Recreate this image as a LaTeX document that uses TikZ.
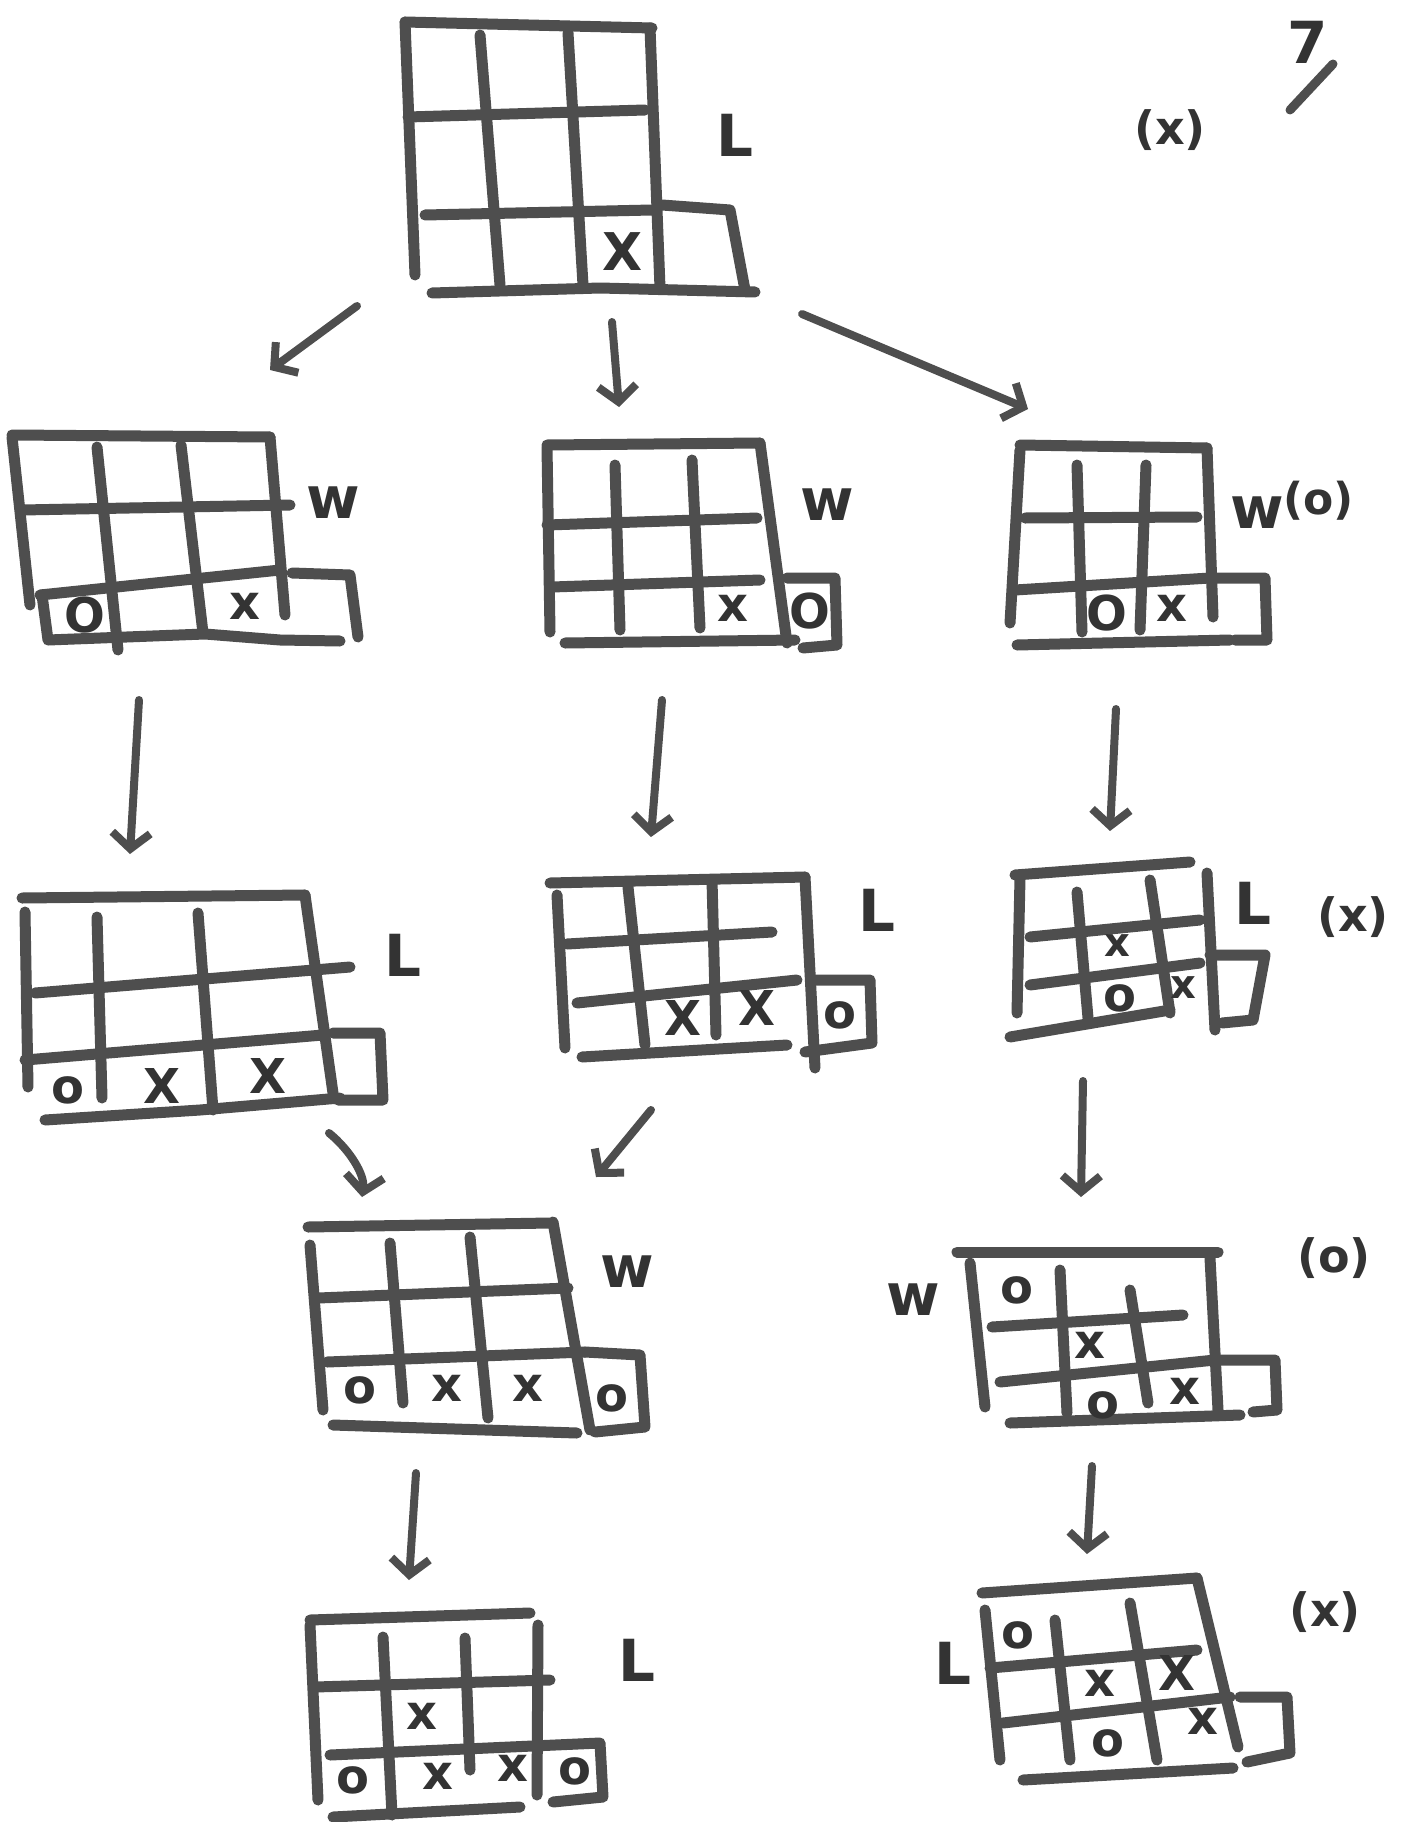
\documentclass[tikz,border=0pt]{standalone}
\usepackage{fontspec}
\setsansfont{DejaVu Sans}
\usetikzlibrary{arrows.meta}
\definecolor{ink}{HTML}{4E4E4E}
\definecolor{dark}{HTML}{333333}
\begin{document}
\begin{tikzpicture}[x=1pt,y=-1pt,
  gl/.style={draw=ink,line width=11pt,line cap=round,line join=round},
  arr/.style={draw=ink,line width=8pt,line cap=round,-{Straight Barb[length=16pt,width=38pt]}},
  mk/.style={text=dark,font=\sffamily\bfseries\fontsize{48}{48}\selectfont,inner sep=0pt},
  lab/.style={text=dark,font=\sffamily\bfseries\fontsize{58}{58}\selectfont,inner sep=0pt},
  par/.style={text=dark,font=\sffamily\bfseries\fontsize{46}{46}\selectfont,inner sep=0pt}]
\useasboundingbox (0,0) rectangle (1405,1822);
\fill[white] (0,0) rectangle (1405,1822);

% ---------- top right marks
\node[par] (tx) at (1170,130) {(x)};
\node[lab] (seven) at (1308,42) {7};
\coordinate (s1) at (1290,110); \coordinate (s2) at (1333,64);
\draw[gl,line width=9pt] (s1) -- (s2);

% ---------- Board 1
\draw[gl] (405,22) -- (652,28);
\draw[gl] (405,22) -- (415,275);
\draw[gl] (480,35) -- (500,285);
\draw[gl] (568,33) -- (583,285);
\draw[gl] (650,28) -- (660,288);
\draw[gl] (408,117) -- (645,110);
\draw[gl] (425,215) -- (652,210);
\draw[gl] (432,293) -- (600,288) -- (755,292);
\draw[gl] (662,205) -- (730,210) -- (745,290);
\node[mk,font=\sffamily\bfseries\fontsize{52}{52}\selectfont] (b1x) at (623,252) {X};
\node[lab] (b1l) at (735,135) {L};

% ---------- Board 2a
\draw[gl] (12,435) -- (270,437);
\draw[gl] (12,437) -- (30,605);
\draw[gl] (97,447) -- (118,650);
\draw[gl] (181,445) -- (203,633);
\draw[gl] (270,437) -- (285,615);
\draw[gl] (22,510) -- (290,505);
\draw[gl] (40,595) -- (280,570);
\draw[gl] (42,595) -- (48,640) -- (205,634) -- (280,640) -- (340,641);
\draw[gl] (292,573) -- (350,575) -- (358,637);
\node[mk] (b2ao) at (85,615) {O};
\node[mk] (b2ax) at (245,606) {x};
\node[lab] (b2al) at (333,503) {w};

% ---------- Board 2b
\draw[gl] (547,445) -- (760,443);
\draw[gl] (547,447) -- (550,632);
\draw[gl] (615,465) -- (620,630);
\draw[gl] (692,460) -- (700,628);
\draw[gl] (760,443) -- (787,643);
\draw[gl] (547,525) -- (757,518);
\draw[gl] (552,587) -- (760,580);
\draw[gl] (565,643) -- (795,640);
\draw[gl] (787,578) -- (835,578) -- (837,645) -- (803,648);
\node[mk] (b2bx) at (733,608) {x};
\node[mk] (b2bo) at (810,611) {O};
\node[lab] (b2bl) at (827,505) {w};

% ---------- Board 2c
\draw[gl] (1020,445) -- (1207,448);
\draw[gl] (1020,450) -- (1010,623);
\draw[gl] (1077,465) -- (1082,632);
\draw[gl] (1146,465) -- (1140,630);
\draw[gl] (1207,448) -- (1213,617);
\draw[gl] (1025,518) -- (1197,517);
\draw[gl] (1015,590) -- (1210,578) -- (1265,578) -- (1267,640) -- (1235,640);
\draw[gl] (1017,645) -- (1230,640);
\node[mk] (b2co) at (1107,613) {O};
\node[mk] (b2cx) at (1172,608) {x};
\node[lab] (b2cl) at (1292,505) {w\raisebox{14pt}{\fontsize{44}{44}\selectfont(o)}};

% ---------- Board 3a
\draw[gl] (22,898) -- (305,895);
\draw[gl] (25,912) -- (28,1087);
\draw[gl] (97,917) -- (102,1098);
\draw[gl] (198,913) -- (213,1110);
\draw[gl] (305,895) -- (333,1093);
\draw[gl] (35,993) -- (350,967);
\draw[gl] (25,1060) -- (323,1035);
\draw[gl] (45,1120) -- (200,1110) -- (340,1098);
\draw[gl] (333,1033) -- (380,1033) -- (383,1100) -- (338,1100);
\node[mk] (b3ao) at (68,1090) {o};
\node[mk] (b3ax1) at (162,1086) {X};
\node[mk] (b3ax2) at (268,1076) {X};
\node[lab] (b3al) at (403,955) {L};

% ---------- Board 3b
\draw[gl] (550,883) -- (805,877);
\draw[gl] (557,895) -- (565,1048);
\draw[gl] (628,887) -- (645,1045);
\draw[gl] (712,880) -- (716,1035);
\draw[gl] (805,877) -- (815,1068);
\draw[gl] (567,944) -- (772,932);
\draw[gl] (577,1003) -- (797,980);
\draw[gl] (582,1057) -- (787,1045);
\draw[gl] (812,980) -- (870,980) -- (872,1043) -- (805,1052);
\node[mk] (b3bx1) at (683,1018) {X};
\node[mk] (b3bx2) at (757,1008) {X};
\node[mk] (b3bo) at (840,1015) {o};
\node[lab] (b3bl) at (877,910) {L};

% ---------- Board 3c
\draw[gl] (1015,875) -- (1190,862);
\draw[gl] (1020,878) -- (1017,1013);
\draw[gl] (1077,892) -- (1088,1018);
\draw[gl] (1150,880) -- (1170,1013);
\draw[gl] (1207,873) -- (1215,1030);
\draw[gl] (1030,937) -- (1200,920);
\draw[gl] (1030,985) -- (1200,963);
\draw[gl] (1010,1037) -- (1170,1010);
\draw[gl] (1210,955) -- (1265,955) -- (1253,1020) -- (1222,1023);
\node[mk,font=\sffamily\bfseries\fontsize{40}{40}\selectfont] (b3cx1) at (1117,946) {x};
\node[mk,font=\sffamily\bfseries\fontsize{40}{40}\selectfont] (b3cx2) at (1183,988) {x};
\node[mk] (b3co) at (1120,998) {o};
\node[lab] (b3cl) at (1253,903) {L};
\node[par] (b3cp) at (1353,917) {(x)};

% ---------- Board 4a
\draw[gl] (308,1227) -- (550,1223);
\draw[gl] (310,1245) -- (323,1410);
\draw[gl] (390,1243) -- (403,1403);
\draw[gl] (470,1237) -- (488,1418);
\draw[gl] (553,1222) -- (590,1430);
\draw[gl] (318,1298) -- (568,1288);
\draw[gl] (327,1362) -- (585,1352);
\draw[gl] (333,1425) -- (577,1433);
\draw[gl] (585,1352) -- (640,1355) -- (645,1427) -- (595,1432);
\node[mk] (b4ao1) at (360,1390) {o};
\node[mk] (b4ax1) at (447,1388) {x};
\node[mk] (b4ax2) at (528,1388) {x};
\node[mk] (b4ao2) at (612,1398) {o};
\node[lab] (b4al) at (627,1272) {w};

% ---------- Board 4b
\draw[gl] (957,1252) -- (1218,1252);
\draw[gl] (970,1263) -- (985,1407);
\draw[gl] (1060,1270) -- (1067,1413);
\draw[gl] (1130,1290) -- (1148,1403);
\draw[gl] (1210,1258) -- (1218,1410);
\draw[gl] (992,1327) -- (1183,1315);
\draw[gl] (1000,1382) -- (1215,1360) -- (1275,1360) -- (1277,1410) -- (1253,1412);
\draw[gl] (1010,1423) -- (1240,1415);
\node[mk] (b4bo1) at (1017,1290) {o};
\node[mk] (b4bx1) at (1090,1345) {x};
\node[mk] (b4bo2) at (1103,1405) {o};
\node[mk] (b4bx2) at (1185,1391) {x};
\node[lab] (b4bl) at (913,1300) {w};
\node[par] (b4bp) at (1334,1258) {(o)};

% ---------- Board 5a
\draw[gl] (310,1620) -- (530,1613);
\draw[gl] (310,1625) -- (318,1800);
\draw[gl] (383,1637) -- (392,1815);
\draw[gl] (465,1638) -- (470,1770);
\draw[gl] (538,1625) -- (537,1795);
\draw[gl] (315,1687) -- (550,1680);
\draw[gl] (330,1755) -- (600,1743) -- (603,1797) -- (553,1802);
\draw[gl] (333,1817) -- (520,1807);
\node[mk] (b5ax1) at (422,1716) {x};
\node[mk] (b5ao1) at (353,1780) {o};
\node[mk] (b5ax2) at (438,1776) {x};
\node[mk] (b5ax3) at (513,1768) {x};
\node[mk] (b5ao2) at (575,1771) {o};
\node[lab] (b5al) at (637,1660) {L};

% ---------- Board 5b
\draw[gl] (982,1593) -- (1197,1578);
\draw[gl] (985,1610) -- (1000,1760);
\draw[gl] (1055,1620) -- (1070,1760);
\draw[gl] (1130,1603) -- (1157,1760);
\draw[gl] (1197,1578) -- (1238,1747);
\draw[gl] (990,1668) -- (1197,1650);
\draw[gl] (1003,1723) -- (1230,1697);
\draw[gl] (1240,1697) -- (1287,1697) -- (1290,1753) -- (1247,1762);
\draw[gl] (1023,1780) -- (1233,1768);
\node[mk] (b5bo1) at (1018,1635) {o};
\node[mk] (b5bx1) at (1100,1683) {x};
\node[mk] (b5bx2) at (1177,1673) {X};
\node[mk] (b5bx3) at (1203,1721) {x};
\node[mk] (b5bo2) at (1108,1743) {o};
\node[lab] (b5bl) at (953,1663) {L};
\node[par] (b5bp) at (1325,1612) {(x)};

% ---------- arrows
\coordinate (a1s) at (357,306);  \coordinate (a1e) at (270,370);
\coordinate (a2s) at (612,322);  \coordinate (a2e) at (619,407);
\coordinate (a3s) at (802,314);  \coordinate (a3e) at (1028,409);
\coordinate (a4s) at (139,700);  \coordinate (a4e) at (130,854);
\coordinate (a5s) at (662,700);  \coordinate (a5e) at (651,837);
\coordinate (a6s) at (1116,709); \coordinate (a6e) at (1110,831);
\coordinate (a7s) at (329,1133); \coordinate (a7e) at (362,1197);
\coordinate (a8s) at (651,1110); \coordinate (a8e) at (596,1177);
\coordinate (a9s) at (1083,1081); \coordinate (a9e) at (1081,1197);
\coordinate (a10s) at (416,1473); \coordinate (a10e) at (409,1580);
\coordinate (a11s) at (1092,1466); \coordinate (a11e) at (1087,1554);
\draw[arr] (a1s) -- (a1e);
\draw[arr] (a2s) -- (a2e);
\draw[arr] (a3s) -- (a3e);
\draw[arr] (a4s) -- (a4e);
\draw[arr] (a5s) -- (a5e);
\draw[arr] (a6s) -- (a6e);
\draw[arr] (a7s) .. controls (350,1150) and (365,1175) .. (a7e);
\draw[arr] (a8s) -- (a8e);
\draw[arr] (a9s) -- (a9e);
\draw[arr] (a10s) -- (a10e);
\draw[arr] (a11s) -- (a11e);
\end{tikzpicture}
\end{document}
